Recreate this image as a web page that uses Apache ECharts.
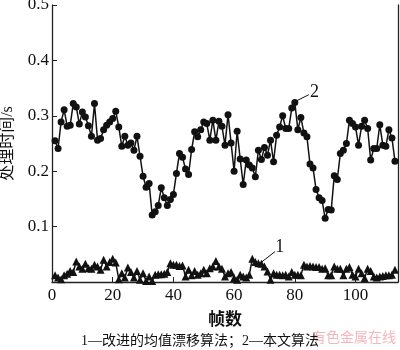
<!DOCTYPE html>
<html>
<head>
<meta charset="utf-8">
<script src="https://cdn.jsdelivr.net/npm/echarts@6/dist/echarts.min.js"></script>
<style>html,body{margin:0;padding:0;background:#fff;}#c{width:400px;height:350px;}</style>
</head>
<body>
<div id="c"></div>
<script>
// frame numbers
const frames = [];
for (let i = 1; i <= 113; i++) frames.push(i);

// series 1: improved mean-shift algorithm (triangles)
const meanShift = [
0.012,0.008,0.005,0.012,0.015,0.020,0.018,0.037,0.028,0.024,
0.033,0.025,0.024,0.031,0.028,0.022,0.040,0.028,0.036,0.042,
0.035,0.005,0.016,0.008,0.026,0.018,0.008,0.020,0.004,0.016,
0.002,0.010,0.002,0.013,0.014,0.014,0.015,0.018,0.034,0.031,
0.031,0.029,0.030,0.010,0.022,0.012,0.020,0.013,0.016,0.022,
0.016,0.025,0.028,0.038,0.028,0.024,0.010,0.016,0.018,0.007,
0.004,0.013,0.010,0.008,0.013,0.042,0.036,0.034,0.033,0.028,
0.019,0.004,0.016,0.013,0.013,0.012,0.013,0.010,0.018,0.013,
0.013,0.012,0.031,0.028,0.029,0.028,0.027,0.027,0.024,0.025,
0.012,0.012,0.028,0.024,0.024,0.012,0.024,0.027,0.013,0.010,
0.024,0.016,0.007,0.024,0.020,0.010,0.008,0.010,0.011,0.012,
0.012,0.013,0.022
];

// series 2: this paper's algorithm (circles)
const proposed = [
0.255,0.241,0.289,0.311,0.281,0.283,0.322,0.316,0.285,0.307,
0.298,0.282,0.263,0.322,0.256,0.259,0.275,0.283,0.289,0.295,
0.308,0.280,0.245,0.263,0.247,0.251,0.238,0.263,0.227,0.191,
0.171,0.178,0.121,0.127,0.138,0.170,0.152,0.138,0.149,0.158,
0.196,0.232,0.225,0.204,0.194,0.239,0.271,0.262,0.275,0.289,
0.286,0.256,0.292,0.256,0.290,0.281,0.247,0.302,0.251,0.200,
0.272,0.222,0.176,0.220,0.211,0.206,0.190,0.238,0.221,0.243,
0.229,0.256,0.217,0.265,0.280,0.300,0.277,0.277,0.314,0.324,
0.275,0.297,0.269,0.262,0.213,0.206,0.167,0.152,0.147,0.115,
0.131,0.130,0.192,0.185,0.232,0.238,0.250,0.292,0.286,0.280,
0.247,0.281,0.292,0.277,0.220,0.241,0.241,0.284,0.247,0.245,
0.275,0.260,0.218
];

const xTicks = [0, 20, 40, 60, 80, 100];
const yTicks = [0.1, 0.2, 0.3, 0.4, 0.5];
const xName = '帧数';
const yName = '处理时间/s';
const caption = '1—改进的均值漂移算法；2—本文算法';
const watermark = '有色金属在线';

// annotation leader lines (data coordinates)
const label1 = { text: '1', from: [68, 0.0315], to: [73.5, 0.055], at: [75, 0.062] };
const label2 = { text: '2', from: [80.2, 0.326], to: [84.6, 0.338], at: [86.5, 0.343] };

const serif = '"Liberation Serif","Times New Roman","Noto Sans CJK SC",serif';
const ink = '#111';

function pairs(ys) { return frames.map((f, i) => [f, ys[i]]); }

function annot(a) {
  return {
    markLine: {
      silent: true, symbol: ['none', 'none'], animation: false,
      lineStyle: { color: ink, width: 1, type: 'solid' },
      label: { show: false },
      data: [[{ coord: a.from }, { coord: a.to }]]
    },
    markPoint: {
      silent: true, animation: false,
      symbol: 'circle', symbolSize: 1,
      itemStyle: { color: 'rgba(0,0,0,0)' },
      label: { show: true, position: 'inside', formatter: a.text, color: ink, fontSize: 18, fontFamily: serif },
      data: [{ coord: a.at }]
    }
  };
}

const chart = echarts.init(document.getElementById('c'), null, { renderer: 'canvas' });
chart.setOption({
  animation: false,
  backgroundColor: '#fff',
  grid: { left: 52, right: 2, top: 5, bottom: 68, containLabel: false, outerBoundsMode: 'none' },
  title: {
    text: caption, left: 'center', top: 329,
    textStyle: { fontSize: 14, fontWeight: 'normal', color: ink, fontFamily: serif }
  },
  graphic: [{
    type: 'text', right: 4, top: 330,
    style: { text: watermark, fill: 'rgba(236,120,130,0.55)', fontSize: 14, fontFamily: '"Noto Sans CJK SC",sans-serif' }
  }],
  xAxis: {
    type: 'value', min: 0, max: 114, interval: 20,
    name: xName, nameLocation: 'middle', nameGap: 30,
    nameTextStyle: { fontSize: 17, color: ink, fontWeight: 'bold', fontFamily: serif },
    axisLine: { show: true, onZero: false, lineStyle: { color: '#222', width: 1.3 } },
    axisTick: { show: true, inside: true, length: 5, lineStyle: { color: '#222', width: 1 } },
    axisLabel: {
      fontSize: 17, color: ink, fontFamily: serif, margin: 5, showMaxLabel: false,
      formatter: v => (xTicks.indexOf(v) >= 0 ? String(v) : '')
    },
    splitLine: { show: false }
  },
  yAxis: [{
    type: 'value', min: 0, max: 0.5, interval: 0.1,
    name: yName, nameLocation: 'middle', nameGap: 36, nameRotate: 90,
    nameTextStyle: { fontSize: 16, color: ink, fontFamily: serif },
    axisLine: { show: true, onZero: false, lineStyle: { color: '#222', width: 1.3 } },
    axisTick: { show: true, inside: true, length: 5, lineStyle: { color: '#222', width: 1 } },
    axisLabel: {
      fontSize: 17, color: ink, fontFamily: serif, margin: 3,
      formatter: v => { const r = Math.round(v * 10) / 10; return yTicks.indexOf(r) >= 0 ? r.toFixed(1) : ''; }
    },
    splitLine: { show: false }
  }, {
    type: 'value', min: 0, max: 0.5, interval: 0.1, position: 'right',
    axisLine: { show: true, onZero: false, lineStyle: { color: '#222', width: 1.3 } },
    axisTick: { show: false }, axisLabel: { show: false }, splitLine: { show: false }
  }],
  series: [
    Object.assign({
      name: '1', type: 'line', data: pairs(meanShift),
      symbol: 'triangle', symbolSize: 8, showSymbol: true,
      lineStyle: { color: ink, width: 1.5 }, itemStyle: { color: ink }
    }, annot(label1)),
    Object.assign({
      name: '2', type: 'line', data: pairs(proposed),
      symbol: 'circle', symbolSize: 7, showSymbol: true,
      lineStyle: { color: ink, width: 1.5 }, itemStyle: { color: ink }
    }, annot(label2))
  ]
});
</script>
</body>
</html>
